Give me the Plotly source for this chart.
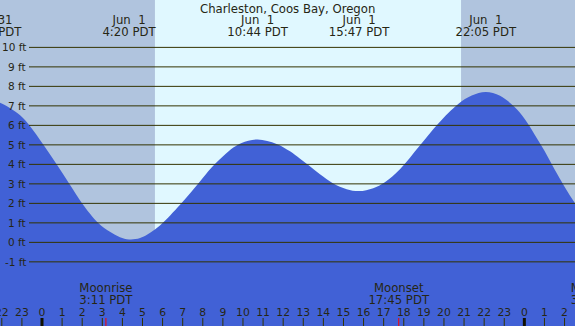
import plotly.graph_objects as go

# ---- data (hours relative to Jun 1 00:00 PDT, heights in ft) ----
tide_hours = [-3.0, -2.54, -2.09, -1.09, -0.63, 0.07, 0.76, 1.39, 1.98, 2.8, 3.38, 3.88, 4.33,
              4.88, 5.62, 5.96, 6.87, 7.86, 8.44, 9.52, 9.93, 10.73, 11.67, 12.34, 12.84,
              13.33, 13.83, 14.49, 15.16, 15.78, 16.48, 17.06, 17.81, 18.81, 19.72, 20.71,
              21.38, 22.08, 22.79, 23.5, 24.0, 24.5, 25.0, 25.5, 26.0, 26.52, 27.0]
tide_feet = [7.17, 7.24, 7.16, 6.52, 6.0, 5.0, 3.95, 2.95, 2.02, 0.99, 0.54, 0.26, 0.15,
             0.22, 0.66, 0.95, 1.93, 3.12, 3.84, 4.86, 5.1, 5.28, 5.05, 4.67, 4.29,
             3.9, 3.49, 3.02, 2.73, 2.63, 2.78, 3.08, 3.75, 4.98, 6.1, 7.1,
             7.53, 7.71, 7.52, 6.95, 6.35, 5.55, 4.7, 3.75, 2.85, 2.0, 1.3]

event_hours = [-2.53, 4.33, 10.73, 15.78, 22.08]
event_dates = ["May\u00a031", "Jun\u00a0\u00a01", "Jun\u00a0\u00a01", "Jun\u00a0\u00a01", "Jun\u00a0\u00a01"]
event_times = ["21:28 PDT", "4:20 PDT", "10:44 PDT", "15:47 PDT", "22:05 PDT"]

moon_hours = [3.18, 17.75, 27.63]
moon_names = ["Moonrise", "Moonset", "Moonrise"]
moon_times = ["3:11 PDT", "17:45 PDT", "3:38 PDT"]

sunrise_hour = 5.62
sunset_hour = 20.85

hour_ticks = list(range(-2, 27))
hour_labels = [str(h % 24) for h in hour_ticks]
midnights = [0, 24]

ft_levels = list(range(-1, 11))
ft_labels = [f"{v} ft" for v in ft_levels]

title = "Charleston, Coos Bay, Oregon"

# ---- style ----
X_RANGE = [-2.09, 26.52]
Y_RANGE = [-4.29, 12.43]
NIGHT = "#b0c4de"
DAY = "#e0f8ff"
WATER = "#4161d6"
INK = "#333300"
TXT = "#262614"
FONT = "DejaVu Sans"

fig = go.Figure()

# baseline for the fill
fig.add_trace(go.Scatter(x=[X_RANGE[0] - 1, X_RANGE[1] + 1], y=[Y_RANGE[0], Y_RANGE[0]],
                         mode="lines", line=dict(width=0), hoverinfo="skip", showlegend=False))
fig.add_trace(go.Scatter(x=tide_hours, y=tide_feet, mode="lines", line=dict(width=0, shape="spline"),
                         fill="tonexty", fillcolor=WATER, hoverinfo="skip", showlegend=False))

# top event labels
fig.add_trace(go.Scatter(x=event_hours, y=[11.35] * len(event_hours), mode="text", text=event_dates,
                         textfont=dict(family=FONT, size=11.7, color=TXT), showlegend=False, hoverinfo="skip"))
fig.add_trace(go.Scatter(x=event_hours, y=[10.74] * len(event_hours), mode="text", text=event_times,
                         textfont=dict(family=FONT, size=11.7, color=TXT), showlegend=False, hoverinfo="skip"))

# moon labels
fig.add_trace(go.Scatter(x=moon_hours, y=[-2.39] * len(moon_hours), mode="text", text=moon_names,
                         textfont=dict(family=FONT, size=11.7, color=TXT), showlegend=False, hoverinfo="skip"))
fig.add_trace(go.Scatter(x=moon_hours, y=[-3.01] * len(moon_hours), mode="text", text=moon_times,
                         textfont=dict(family=FONT, size=11.7, color=TXT), showlegend=False, hoverinfo="skip"))

# hour labels
fig.add_trace(go.Scatter(x=hour_ticks, y=[-3.64] * len(hour_ticks), mode="text", text=hour_labels,
                         textfont=dict(family=FONT, size=10.8, color=TXT), showlegend=False, hoverinfo="skip"))

shapes = []
# night shading
shapes.append(dict(type="rect", xref="x", yref="paper", x0=X_RANGE[0], x1=sunrise_hour, y0=0, y1=1,
                   fillcolor=NIGHT, line=dict(width=0), layer="below"))
shapes.append(dict(type="rect", xref="x", yref="paper", x0=sunset_hour, x1=X_RANGE[1], y0=0, y1=1,
                   fillcolor=NIGHT, line=dict(width=0), layer="below"))
# grid lines
for v in ft_levels:
    shapes.append(dict(type="line", xref="paper", yref="y", x0=29 / 575, x1=1, y0=v, y1=v,
                       line=dict(color=INK, width=1), layer="above"))
# hour ticks
for h in hour_ticks:
    shapes.append(dict(type="line", xref="x", yref="paper", x0=h, x1=h, y0=0, y1=8 / 326,
                       line=dict(color=INK, width=1), layer="above"))
for h in midnights:
    shapes.append(dict(type="line", xref="x", yref="paper", x0=h, x1=h, y0=0, y1=8 / 326,
                       line=dict(color="#111100", width=3), layer="above"))
for h in moon_hours:
    shapes.append(dict(type="line", xref="x", yref="paper", x0=h, x1=h, y0=0, y1=8 / 326,
                       line=dict(color="#ff0000", width=1), layer="above"))

annotations = [dict(text=title, xref="paper", yref="y", x=0.5, y=11.97, showarrow=False,
                    font=dict(family=FONT, size=11.7, color=TXT))]
for v, lab in zip(ft_levels, ft_labels):
    annotations.append(dict(text=lab, xref="paper", yref="y", x=27.5 / 575, y=v, xanchor="right",
                            showarrow=False, font=dict(family=FONT, size=10.5, color=TXT)))

fig.update_layout(
    width=575, height=326, margin=dict(l=0, r=0, t=0, b=0),
    paper_bgcolor=DAY, plot_bgcolor=DAY,
    xaxis=dict(range=X_RANGE, visible=False, fixedrange=True),
    yaxis=dict(range=Y_RANGE, visible=False, fixedrange=True),
    shapes=shapes, annotations=annotations, showlegend=False,
)

fig.write_html("out.html", config={"displayModeBar": False},
               post_script="document.body.style.margin='0px';document.body.style.padding='0px';")
